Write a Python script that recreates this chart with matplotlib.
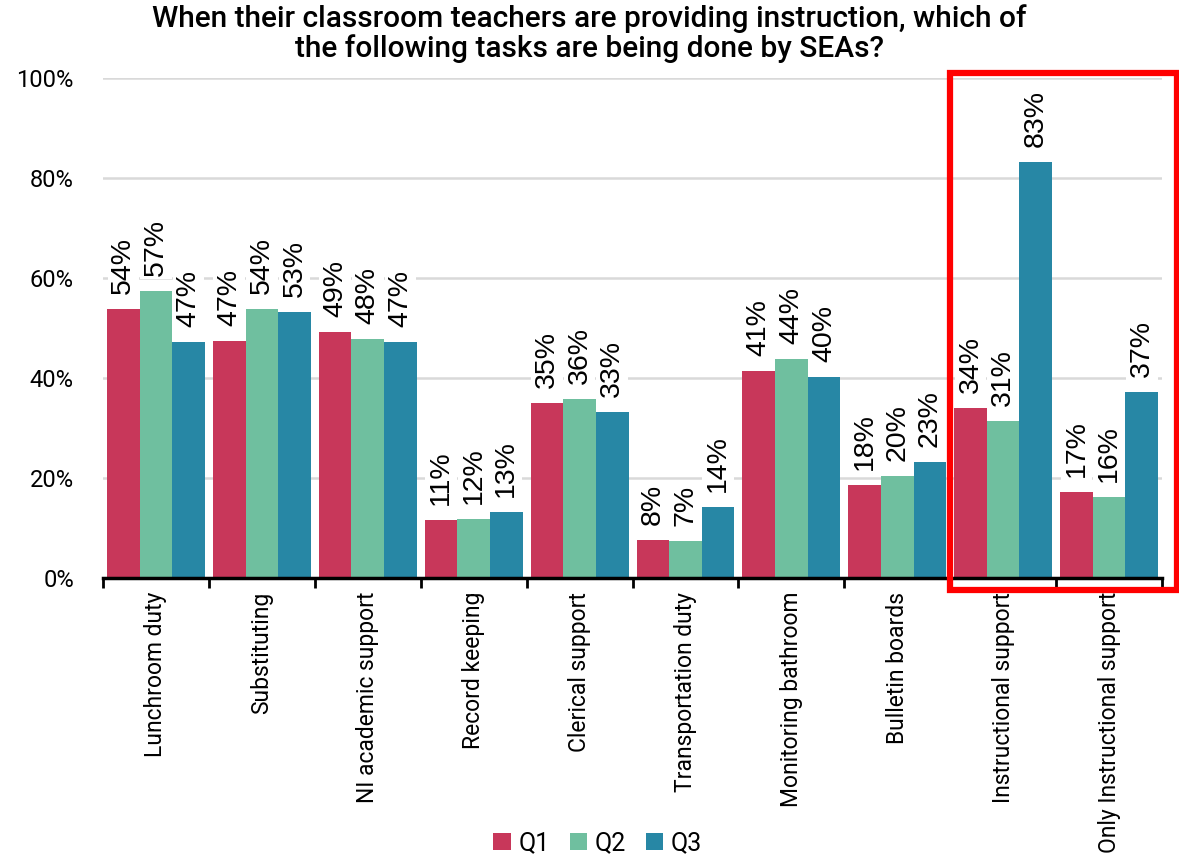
import matplotlib
matplotlib.use("Agg")
import matplotlib.pyplot as plt
from matplotlib.patches import Rectangle
import numpy as np

categories = ["Lunchroom duty", "Substituting", "NI academic support", "Record keeping",
              "Clerical support", "Transportation duty", "Monitoring bathroom",
              "Bulletin boards", "Instructional support", "Only Instructional support"]
q1 = [53.8, 47.4, 49.1, 11.5, 34.9, 7.6, 41.4, 18.5, 34.0, 17.1]
q2 = [57.4, 53.8, 47.8, 11.8, 35.7, 7.4, 43.7, 20.4, 31.3, 16.1]
q3 = [47.1, 53.1, 47.1, 13.1, 33.1, 14.1, 40.1, 23.1, 83.1, 37.1]
q1_labels = ["54%", "47%", "49%", "11%", "35%", "8%", "41%", "18%", "34%", "17%"]
q2_labels = ["57%", "54%", "48%", "12%", "36%", "7%", "44%", "20%", "31%", "16%"]
q3_labels = ["47%", "53%", "47%", "13%", "33%", "14%", "40%", "23%", "83%", "37%"]
series = ["Q1", "Q2", "Q3"]
colors = ["#c8375a", "#6fbf9f", "#2787a5"]

plt.rcParams['font.family'] = ['Roboto', 'DejaVu Sans']

fig = plt.figure(figsize=(11.79, 8.56), dpi=100)
ax = fig.add_axes([0.0874, 0.3248, 0.8982, 0.5841])

x = np.arange(len(categories))
w = 0.308
all_vals = [q1, q2, q3]
all_labels = [q1_labels, q2_labels, q3_labels]
for i in range(3):
    ax.bar(x + (i - 1) * w, all_vals[i], w, color=colors[i], label=series[i], zorder=2)

# labels on top of bars, white boxes like the original
for i in range(3):
    for j in range(len(categories)):
        ax.text(x[j] + (i - 1) * w, all_vals[i][j] + 3.0, all_labels[i][j],
                rotation=90, ha="center", va="bottom", fontsize=20.5,
                family="Liberation Sans", zorder=3,
                bbox=dict(facecolor="white", edgecolor="none", pad=2.0))

ax.set_xlim(-0.5, len(categories) - 0.5)
ax.set_ylim(0, 100)
ax.set_yticks(np.arange(0, 101, 20))
ax.set_yticklabels([f"{v}%" for v in range(0, 101, 20)], fontsize=17)
ax.yaxis.grid(True, color="#d9d9d9", linewidth=1.8, zorder=0)
ax.set_axisbelow(True)
ax.tick_params(axis="y", length=0, pad=21)

ax.set_xticks(x)
ax.set_xticklabels(categories, rotation=90, fontsize=16.5, va="top")
ax.tick_params(axis="x", length=0, pad=10)
ax.set_xticks(np.arange(-0.5, len(categories), 1), minor=True)
ax.tick_params(axis="x", which="minor", length=7, width=2, color="black")

for s in ["top", "right", "left"]:
    ax.spines[s].set_visible(False)
ax.spines["bottom"].set_linewidth(2.5)
ax.spines["bottom"].set_color("black")

fig.text(0.5, 0.995, "When their classroom teachers are providing instruction, which of\n"
         "the following tasks are being done by SEAs?",
         ha="center", va="top", fontsize=21.5, fontweight="medium", linespacing=1.05)

# red highlight box
ax.add_patch(Rectangle((7.5, -2.4), 2.14, 103.4, fill=False, edgecolor="#ff0000",
                       linewidth=4.5, clip_on=False, zorder=5))

fig.legend(loc="center", bbox_to_anchor=(0.507, 0.015), ncol=3, frameon=False,
           fontsize=18, handlelength=0.7, handleheight=0.7, handletextpad=0.3,
           columnspacing=0.8)

fig.savefig("out.png", dpi=100)
